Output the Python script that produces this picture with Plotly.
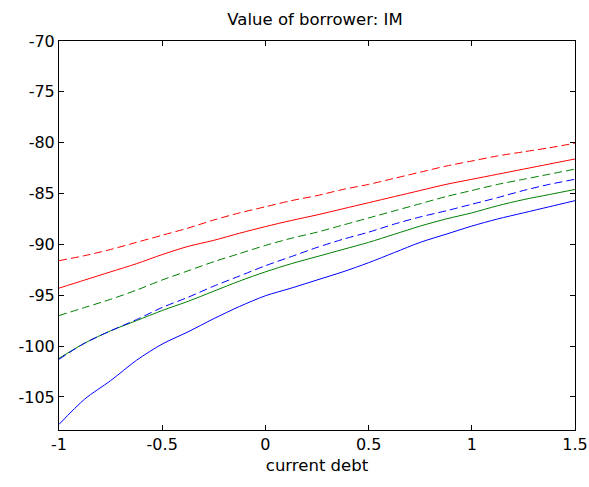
import plotly.graph_objects as go

x = [-1.0, -0.875, -0.75, -0.625, -0.5, -0.375, -0.25, -0.125, 0.0,
     0.125, 0.25, 0.375, 0.5, 0.625, 0.75, 0.875, 1.0, 1.125, 1.25, 1.375, 1.5]

red_dashed = [-91.6, -91.1, -90.5, -89.8, -89.1, -88.4, -87.6, -86.9, -86.3,
              -85.7, -85.2, -84.6, -84.1, -83.5, -82.9, -82.3, -81.8, -81.3, -80.9, -80.5, -80.05]
red_solid = [-94.3, -93.5, -92.7, -91.9, -91.0, -90.2, -89.6, -88.9, -88.25,
             -87.65, -87.1, -86.5, -85.9, -85.3, -84.7, -84.1, -83.6, -83.1, -82.6, -82.1, -81.6]
green_dashed = [-97.0, -96.2, -95.4, -94.5, -93.5, -92.6, -91.7, -90.9, -90.1,
                -89.4, -88.8, -88.1, -87.4, -86.7, -86.0, -85.3, -84.7, -84.1, -83.6, -83.1, -82.6]
blue_dashed = [-101.3, -99.7, -98.5, -97.4, -96.2, -95.2, -94.1, -93.1, -92.1,
               -91.2, -90.3, -89.5, -88.8, -88.0, -87.3, -86.7, -86.05, -85.4, -84.7, -84.1, -83.6]
green_solid = [-101.2, -99.7, -98.5, -97.5, -96.5, -95.6, -94.6, -93.6, -92.7,
               -91.9, -91.2, -90.5, -89.8, -89.0, -88.2, -87.5, -86.9, -86.2, -85.6, -85.1, -84.6]
blue_solid = [-107.7, -105.2, -103.4, -101.4, -99.8, -98.6, -97.3, -96.1, -95.05,
              -94.3, -93.5, -92.7, -91.8, -90.8, -89.8, -89.0, -88.2, -87.5, -86.9, -86.3, -85.7]

x_ticks = [-1, -0.5, 0, 0.5, 1, 1.5]
x_tick_text = ["-1", "-0.5", "0", "0.5", "1", "1.5"]
y_ticks = [-105, -100, -95, -90, -85, -80, -75, -70]
y_tick_text = ["-105", "-100", "-95", "-90", "-85", "-80", "-75", "-70"]

series = [
    (red_dashed, "#ff0000", "8px,4px"),
    (red_solid, "#ff0000", "solid"),
    (green_dashed, "#008000", "8px,4px"),
    (green_solid, "#008000", "solid"),
    (blue_dashed, "#0000ff", "8px,4px"),
    (blue_solid, "#0000ff", "solid"),
]

fig = go.Figure()
for ys, col, dash in series:
    fig.add_trace(go.Scatter(x=x, y=ys, mode="lines",
                             line=dict(color=col, width=1, dash=dash, shape="spline", smoothing=0.8),
                             showlegend=False, hoverinfo="skip"))

font = "DejaVu Sans, Arial, sans-serif"
axis_common = dict(showline=True, linecolor="black", linewidth=1, mirror="ticks",
                   ticks="inside", ticklen=5, tickcolor="black", tickwidth=1,
                   showgrid=False, zeroline=False, automargin=False,
                   tickfont=dict(family=font, size=16, color="black"))

fig.update_layout(
    width=589, height=487,
    margin=dict(l=59, r=14, t=41, b=57),
    paper_bgcolor="white", plot_bgcolor="white",
    title=dict(text="Value of borrower: IM", x=315/589, xanchor="center",
               y=1 - 19/487, yanchor="middle", yref="container",
               font=dict(family=font, size=16.5, color="black")),
    xaxis=dict(range=[-1, 1.5], tickvals=x_ticks, ticktext=x_tick_text,
               title=dict(text="current debt", standoff=6,
                          font=dict(family=font, size=16.5, color="black")),
               **axis_common),
    yaxis=dict(range=[-108.25, -70], tickvals=y_ticks, ticktext=y_tick_text,
               **axis_common),
)

fig.write_html("out.html")
